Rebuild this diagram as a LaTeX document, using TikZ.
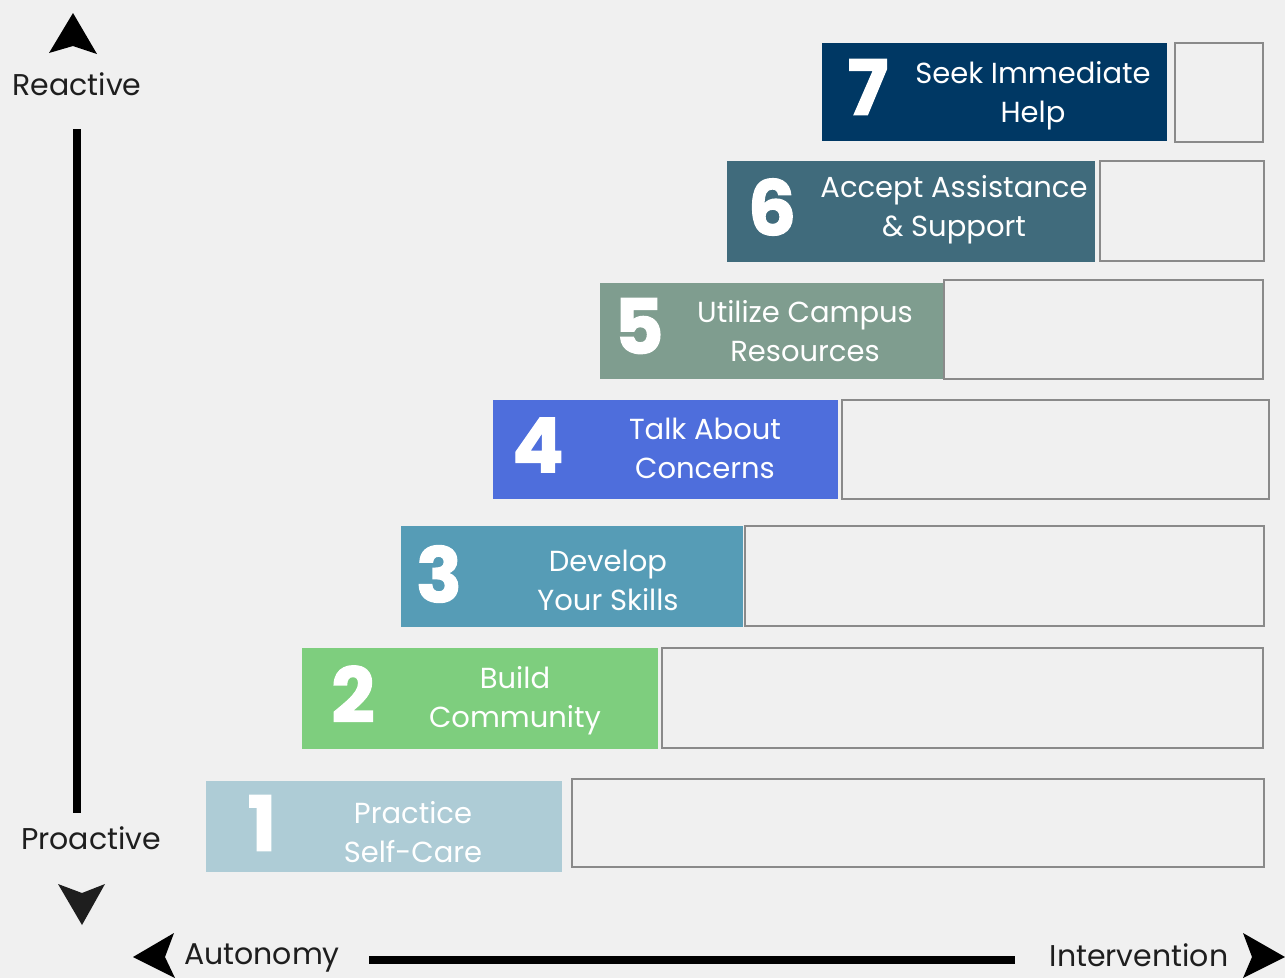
\documentclass[tikz,border=0pt]{standalone}
\usepackage{fontspec}
\setmainfont{Poppins}
\newfontfamily\numfont[BoldFeatures={FakeBold=1.6}]{Poppins}
\usepackage{xcolor}
\usetikzlibrary{positioning,calc}

\definecolor{bgcol}{HTML}{F0F0F0}
\definecolor{inkcol}{HTML}{1E1E1E}
\definecolor{edgecol}{HTML}{8A8A8A}
\definecolor{lvlone}{HTML}{AECCD6}
\definecolor{lvltwo}{HTML}{7ECE7E}
\definecolor{lvlthree}{HTML}{569CB6}
\definecolor{lvlfour}{HTML}{4E6EDC}
\definecolor{lvlfive}{HTML}{7F9D8F}
\definecolor{lvlsix}{HTML}{406B7C}
\definecolor{lvlseven}{HTML}{003864}

\begin{document}
\begin{tikzpicture}[
    x=1pt, y=-1pt,
    stepbox/.style={rectangle, inner sep=0pt, outer sep=0pt},
    slotbox/.style={rectangle, draw=edgecol, line width=2.5pt, inner sep=0pt, outer sep=0pt},
    stepnum/.style={text=white, font=\fontsize{76}{76}\selectfont\numfont\bfseries, inner sep=0pt},
    steptext/.style={text=white, align=center, font=\fontsize{29}{39}\selectfont, inner sep=0pt},
    axislabel/.style={text=inkcol, font=\fontsize{30}{36}\selectfont, inner sep=0pt},
    axisline/.style={line width=8pt, black}
]
    \fill[bgcol] (0,0) rectangle (1285,978);
    \useasboundingbox (0,0) rectangle (1285,978);

    % level 7 (top)
    \node[stepbox, fill=lvlseven, minimum width=345pt, minimum height=98pt] (s7) at (994.5,92) {};
    \node[slotbox, minimum width=88pt, minimum height=99pt] (e7) at (1219,92.5) {};
    \node[stepnum] (n7) at (868,87) {7};
    \node[steptext] (t7) at (1033,96) {Seek Immediate\\Help};

    % level 6
    \node[stepbox, fill=lvlsix, minimum width=368pt, minimum height=101pt] (s6) at (911,211.5) {};
    \node[slotbox, minimum width=164pt, minimum height=100pt] (e6) at (1182,211) {};
    \node[stepnum] (n6) at (772,207) {6};
    \node[steptext] (t6) at (954,210) {Accept Assistance\\\& Support};

    % level 5
    \node[stepbox, fill=lvlfive, minimum width=344pt, minimum height=96pt] (s5) at (772,331) {};
    \node[slotbox, minimum width=319pt, minimum height=99pt] (e5) at (1103.5,329.5) {};
    \node[stepnum] (n5) at (639,326) {5};
    \node[steptext] (t5) at (805,331) {Utilize Campus\\Resources};

    % level 4
    \node[stepbox, fill=lvlfour, minimum width=345pt, minimum height=99pt] (s4) at (665.5,449.5) {};
    \node[slotbox, minimum width=427pt, minimum height=99pt] (e4) at (1055.5,449.5) {};
    \node[stepnum] (n4) at (538,445) {4};
    \node[steptext] (t4) at (705,448) {Talk About\\Concerns};

    % level 3
    \node[stepbox, fill=lvlthree, minimum width=342pt, minimum height=101pt] (s3) at (572,576.5) {};
    \node[slotbox, minimum width=519pt, minimum height=100pt] (e3) at (1004.5,576) {};
    \node[stepnum] (n3) at (439,574) {3};
    \node[steptext] (t3) at (608,580) {Develop\\Your Skills};

    % level 2
    \node[stepbox, fill=lvltwo, minimum width=356pt, minimum height=101pt] (s2) at (480,698.5) {};
    \node[slotbox, minimum width=601pt, minimum height=100pt] (e2) at (962.5,698) {};
    \node[stepnum] (n2) at (353,694) {2};
    \node[steptext] (t2) at (515,701) {Build\\Community};

    % level 1 (bottom)
    \node[stepbox, fill=lvlone, minimum width=356pt, minimum height=91pt] (s1) at (384,826.5) {};
    \node[slotbox, minimum width=692pt, minimum height=88pt] (e1) at (918,823) {};
    \node[stepnum] (n1) at (262,823) {1};
    \node[steptext] (t1) at (413,832) {Practice\\Self-Care};

    % vertical axis
    \node[axislabel] (react) at (77,84) {Reactive};
    \node[axislabel] (proact) at (91,838) {Proactive};
    \coordinate (vtop) at (77,129);
    \coordinate (vbot) at (77,813);
    \draw[axisline] (vtop) -- (vbot);
    \fill[black] (73,13) -- (97,54) -- (73,46) -- (49,53) -- cycle;
    \fill[inkcol] (82,925) -- (58,884) -- (82,893) -- (105,884) -- cycle;

    % horizontal axis
    \node[axislabel] (auto) at (262,958) {Autonomy};
    \node[axislabel] (inter) at (1139,955) {Intervention};
    \coordinate (hleft) at (369,960);
    \coordinate (hright) at (1015,960);
    \draw[axisline] (hleft) -- (hright);
    \fill[black] (133,957) -- (174,933) -- (165,957) -- (175,978) -- cycle;
    \fill[black] (1285,957) -- (1243,933) -- (1252,957) -- (1243,978) -- cycle;
\end{tikzpicture}
\end{document}
